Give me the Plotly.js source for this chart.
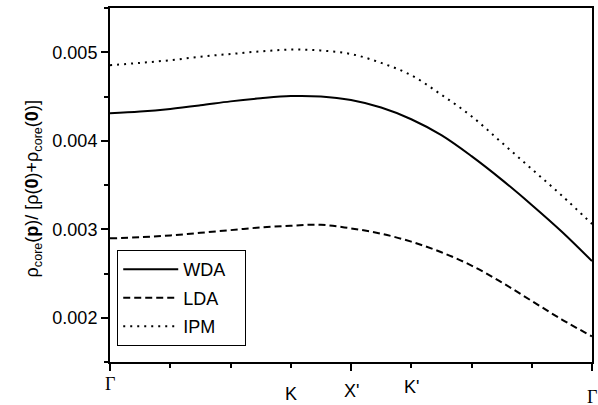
<!DOCTYPE html>
<html>
<head>
<meta charset="utf-8">
<script src="https://cdn.plot.ly/plotly-3.0.1.min.js"></script>
<style>html,body{margin:0;padding:0;background:#fff;}#chart{width:598px;height:405px;}</style>
</head>
<body>
<div id="chart"></div>
<script>
// path coordinate (0 = Γ ... 8 = Γ')
const pathPos = [0, 0.5, 1, 1.5, 2, 2.5, 3, 3.5, 4, 4.5, 5, 5.5, 6, 6.5, 7, 7.5, 8];
const wda = [0.00431, 0.00433, 0.00436, 0.00440, 0.004445, 0.00448, 0.004505, 0.00450, 0.00446, 0.004375, 0.004243, 0.004063, 0.003826, 0.003561, 0.003275, 0.002972, 0.00264];
const lda = [0.002897, 0.00291, 0.00293, 0.00296, 0.00299, 0.00302, 0.00304, 0.00305, 0.00301, 0.00295, 0.00286, 0.00274, 0.00259, 0.00240, 0.00219, 0.00198, 0.00179];
const ipm = [0.004853, 0.00488, 0.00491, 0.00495, 0.00498, 0.00501, 0.00503, 0.00502, 0.00498, 0.00488, 0.00474, 0.00452, 0.004277, 0.00398, 0.00368, 0.00338, 0.00306];
const seriesNames = ['WDA', 'LDA', 'IPM'];
const tickLabelPos = [0, 3, 4, 5, 8];
const tickLabelText = ['Γ', 'K', "X'", "K'", 'Γ'];
const yTicks = [0.002, 0.003, 0.004, 0.005];

const font = 'Liberation Sans, Arial, sans-serif';
const pad = '\u00a0\u00a0\u00a0';
const traces = [
  {x: pathPos, y: wda, name: seriesNames[0] + pad, legendgroup: 'a', mode: 'lines', line: {color: '#000', width: 2, shape: 'spline'}},
  {x: pathPos, y: lda, name: seriesNames[1] + pad, legendgroup: 'b', mode: 'lines', line: {color: '#000', width: 2, dash: '7px,4px', shape: 'spline'}},
  {x: pathPos, y: ipm, name: seriesNames[2] + pad, legendgroup: 'c', mode: 'lines', line: {color: '#000', width: 2, dash: '2px,5px', shape: 'spline'}}
];

const labelShift = [2, -8, -5, -1, -11];
const annotations = tickLabelPos.map((p, i) => ({
  x: p, xref: 'x', y: 0, yref: 'paper', yanchor: 'top', showarrow: false,
  yshift: -12 + labelShift[i],
  text: tickLabelText[i],
  font: {family: tickLabelText[i] === 'Γ' ? 'Liberation Serif, Times New Roman, serif' : font, size: 18, color: '#000'}
}));
annotations.push({
  x: -0.158, xref: 'paper', xanchor: 'center', y: 0.49, yref: 'paper', yanchor: 'middle',
  showarrow: false, textangle: -90,
  text: 'ρ<sub>core</sub>(<b>p</b>)/ [ρ(<b>0</b>)+ρ<sub>core</sub>(<b>0</b>)]',
  font: {family: font, size: 18, color: '#000'}
});

const layout = {
  width: 598, height: 405,
  margin: {l: 110, r: 6, t: 8, b: 43},
  paper_bgcolor: '#fff', plot_bgcolor: '#fff',
  showlegend: true,
  legend: {x: 0.015, y: 0.316, xanchor: 'left', yanchor: 'top', bordercolor: '#000', borderwidth: 1,
           bgcolor: '#fff', font: {family: font, size: 18, color: '#000'}, itemwidth: 55, tracegroupgap: 2},
  xaxis: {range: [0, 8], showgrid: false, zeroline: false, showline: true, linecolor: '#000', linewidth: 2, mirror: true,
          tickvals: [0, 4, 8], ticks: 'outside', ticklen: 7, tickwidth: 2, tickcolor: '#000', showticklabels: false,
          minor: {dtick: 1, ticks: 'outside', ticklen: 4, tickwidth: 2, tickcolor: '#000', showgrid: false}},
  yaxis: {range: [0.0015, 0.0055], showgrid: false, zeroline: false, showline: true, linecolor: '#000', linewidth: 2, mirror: true,
          tickvals: yTicks, tickformat: '.3f', ticks: 'outside', ticklen: 7, tickwidth: 2, tickcolor: '#000',
          tickfont: {family: font, size: 18, color: '#000'},
          minor: {dtick: 0.0005, tick0: 0.0015, ticks: 'outside', ticklen: 4, tickwidth: 2, tickcolor: '#000', showgrid: false}},
  annotations: annotations
};
Plotly.newPlot('chart', traces, layout, {displayModeBar: false, staticPlot: true});
</script>
</body>
</html>
